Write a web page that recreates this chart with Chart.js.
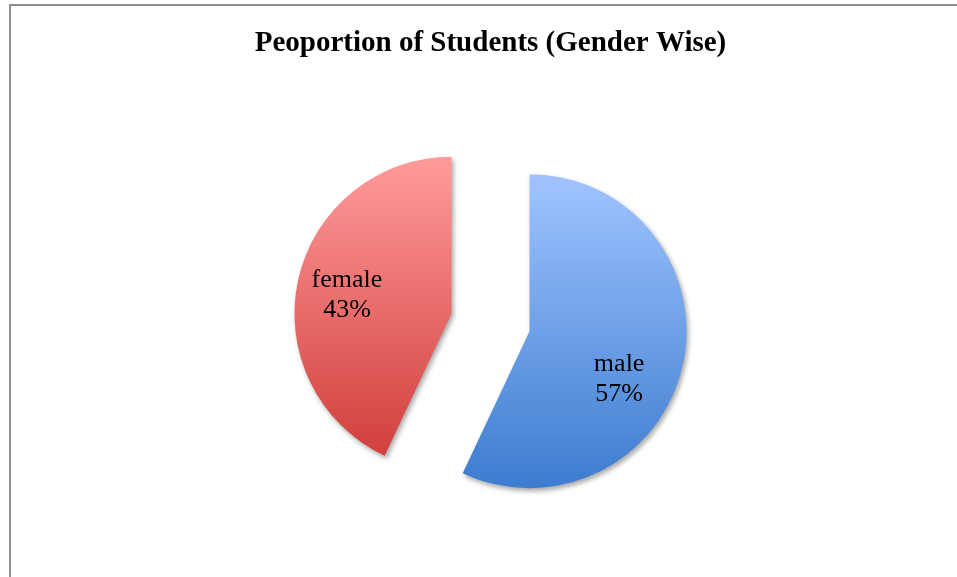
<!DOCTYPE html>
<html>
<head>
<meta charset="utf-8">
<script src="https://cdn.jsdelivr.net/npm/chart.js@4.4.0/dist/chart.umd.min.js"></script>
<style>
  html, body { margin: 0; padding: 0; background: #ffffff; overflow: hidden; }
  #marco {
    position: absolute; left: 9px; top: 4px; width: 1000px; height: 700px;
    border-left: 2px solid #8f8f8f; border-top: 2px solid #8f8f8f;
  }
  #contenedor { position: absolute; left: 0; top: 0; width: 957px; height: 640px; }
</style>
</head>
<body>
<div id="marco"></div>
<div id="contenedor"><canvas id="grafico"></canvas></div>
<script>
// Datos del grafico
const categorias = ['male', 'female'];
const valores = [57, 43];
const titulo = 'Peoportion of Students (Gender Wise)';

// colores del degradado (arriba -> abajo)
const coloresArriba = ['#a0c4ff', '#ff9b9b'];
const coloresAbajo = ['#3d7ccf', '#cf3b38'];

const RADIO = 157;      // radio de cada porcion
const DESPLAZ = 40;     // separacion de cada porcion respecto al centro
// ajuste de angulo (grados) para la etiqueta de cada porcion
const ajusteEtiqueta = [19, -6];

function degradado(ctx) {
  const chart = ctx.chart;
  const area = chart.chartArea;
  const i = ctx.dataIndex;
  if (!area) return coloresArriba[i];
  // el degradado se traslada junto con la porcion
  const cy = (area.top + area.bottom) / 2;
  const g = chart.ctx.createLinearGradient(0, cy - RADIO, 0, cy + RADIO);
  g.addColorStop(0, coloresArriba[i]);
  g.addColorStop(1, coloresAbajo[i]);
  return g;
}

// Dibuja cada porcion separada (sin el offset de Chart.js que deforma los bordes)
const separar = {
  id: 'separar',
  beforeDatasetDraw(chart, args) {
    const c = chart.ctx;
    c.save();
    c.shadowColor = 'rgba(0,0,0,0.35)';
    c.shadowBlur = 5;
    c.shadowOffsetX = 2;
    c.shadowOffsetY = 3;
    args.meta.data.forEach(arco => {
      const p = arco.getProps(['startAngle', 'endAngle']);
      const medio = (p.startAngle + p.endAngle) / 2;
      c.save();
      c.translate(Math.cos(medio) * DESPLAZ, Math.sin(medio) * DESPLAZ);
      arco.draw(c, chart.chartArea);
      c.restore();
    });
    c.restore();
    return false;
  }
};

const etiquetas = {
  id: 'etiquetas',
  afterDraw(chart) {
    const c = chart.ctx;
    const meta = chart.getDatasetMeta(0);
    const total = valores.reduce((a, b) => a + b, 0);
    c.save();
    c.fillStyle = '#000000';
    c.font = '26px "Liberation Serif", "Times New Roman", serif';
    c.textAlign = 'center';
    c.textBaseline = 'alphabetic';
    meta.data.forEach((arco, i) => {
      const p = arco.getProps(['x', 'y', 'startAngle', 'endAngle', 'outerRadius']);
      const medio = (p.startAngle + p.endAngle) / 2;
      const cx = p.x + Math.cos(medio) * DESPLAZ;
      const cy = p.y + Math.sin(medio) * DESPLAZ;
      const ang = medio + ajusteEtiqueta[i] * Math.PI / 180;
      const d = p.outerRadius * 0.67;
      const x = cx + Math.cos(ang) * d;
      const y = cy + Math.sin(ang) * d;
      const pct = Math.round(valores[i] / total * 100) + '%';
      c.fillText(categorias[i], x, y - 15);
      c.fillText(pct, x, y + 15);
    });
    c.restore();
  }
};

const ctx = document.getElementById('grafico').getContext('2d');
const chart = new Chart(ctx, {
  type: 'pie',
  data: {
    labels: categorias,
    datasets: [{
      data: valores,
      backgroundColor: degradado,
      borderWidth: 0,
      offset: 0,
      hoverOffset: 0
    }]
  },
  options: {
    responsive: true,
    maintainAspectRatio: false,
    animation: false,
    radius: RADIO,
    layout: { padding: { left: 24, right: 0, top: 0, bottom: 56 } },
    plugins: {
      legend: { display: false },
      tooltip: { enabled: false },
      title: {
        display: true,
        text: titulo,
        color: '#000000',
        font: { family: '"Liberation Serif", "Times New Roman", serif', size: 29, weight: 'bold' },
        padding: { top: 26, bottom: 0 }
      }
    }
  },
  plugins: [separar, etiquetas]
});
</script>
</body>
</html>
